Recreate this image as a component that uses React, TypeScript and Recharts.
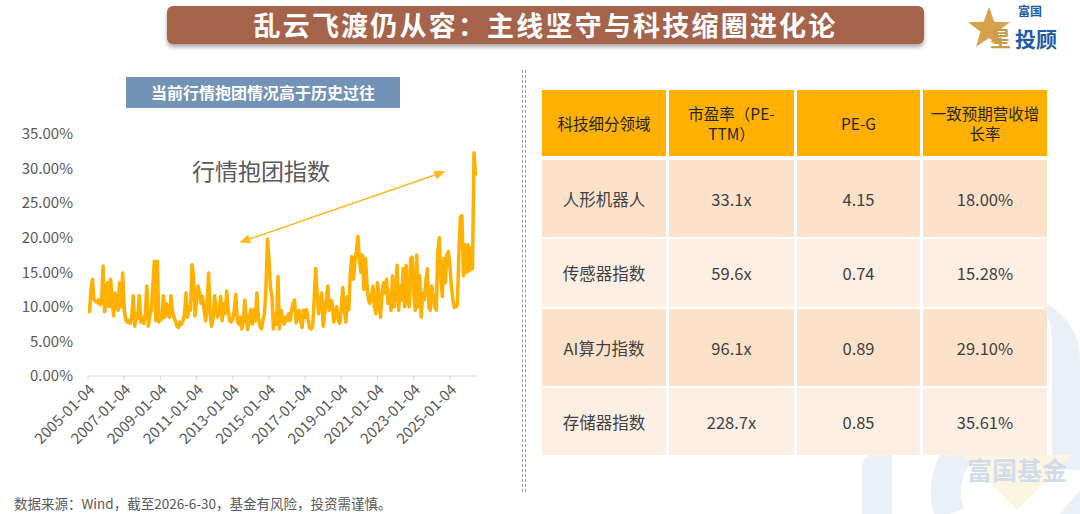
import React from 'react';
import { LineChart, Line, XAxis, YAxis, ReferenceLine } from 'recharts';

// ---------- Data ----------
const startYear = 2005;
// Monthly "行情抱团指数" (%) from Jan 2005 to Jun 2026
const indexValues: number[] = [
  // 2005
  10.2, 9.3, 12.5, 14.0, 11.0, 10.8, 10.6, 11.0, 10.3, 10.6, 15.9, 9.3,
  // 2006
  10.5, 13.5, 10.0, 14.0, 11.0, 8.7, 12.0, 10.5, 9.5, 13.5, 10.0, 14.9,
  // 2007
  9.6, 8.2, 7.8, 8.0, 7.6, 8.5, 11.6, 7.2, 9.0, 8.3, 11.6, 7.8,
  // 2008
  8.5, 7.6, 9.0, 13.0, 7.2, 8.8, 9.5, 13.0, 16.6, 8.0, 16.6, 7.8,
  // 2009
  9.0, 8.2, 11.6, 8.5, 10.5, 9.0, 8.5, 11.6, 9.3, 8.5, 8.0, 7.2,
  // 2010
  7.0, 7.8, 7.5, 8.0, 9.0, 12.0, 8.5, 10.0, 9.5, 16.1, 14.5, 8.7,
  // 2011
  11.0, 13.0, 12.0, 10.5, 11.5, 9.5, 8.0, 10.0, 14.9, 9.0, 7.2, 8.5,
  // 2012
  11.6, 9.5, 8.5, 9.5, 11.5, 8.0, 10.5, 9.0, 12.3, 9.5, 8.0, 7.8,
  // 2013
  8.3, 9.5, 11.8, 8.0, 7.5, 8.5, 6.8, 8.0, 11.0, 8.0, 6.7, 8.5,
  // 2014
  9.6, 7.5, 9.6, 8.0, 12.0, 8.5, 7.2, 6.8, 8.0, 9.0, 12.5, 19.8,
  // 2015
  17.0, 12.8, 11.5, 6.8, 9.0, 7.5, 14.4, 6.8, 9.5, 8.5, 7.5, 8.5,
  // 2016
  8.0, 9.0, 8.0, 9.5, 10.5, 11.0, 7.7, 8.5, 9.5, 8.0, 7.0, 9.5,
  // 2017
  8.5, 9.6, 8.0, 7.0, 6.8, 7.2, 11.0, 15.6, 12.0, 9.0, 10.5, 12.0,
  // 2018
  7.2, 9.0, 11.0, 13.0, 9.5, 11.0, 10.5, 7.8, 9.0, 10.0, 8.0, 7.6,
  // 2019
  10.0, 12.8, 9.5, 7.8, 11.5, 9.6, 15.0, 17.3, 14.0, 16.5, 18.0, 20.2,
  // 2020
  17.0, 15.0, 17.5, 12.5, 17.0, 13.5, 11.0, 10.5, 11.5, 13.0, 10.0, 9.0,
  // 2021
  13.5, 11.0, 8.5, 12.0, 13.5, 12.0, 14.0, 10.5, 12.0, 9.5, 14.5, 10.0,
  // 2022
  12.0, 16.0, 9.5, 13.0, 11.0, 15.5, 10.0, 16.0, 11.0, 10.0, 17.0, 17.2,
  // 2023
  12.0, 9.5, 17.5, 10.0, 14.5, 8.5, 12.0, 11.0, 13.5, 15.5, 10.0, 9.5,
  // 2024
  13.0, 11.5, 10.0, 9.5, 18.0, 20.0, 14.0, 11.5, 17.0, 13.5, 17.5, 18.0,
  // 2025
  16.0, 13.0, 11.0, 9.9, 10.0, 10.3, 18.0, 23.0, 23.2, 14.5, 19.0, 15.0,
  // 2026
  19.0, 15.2, 18.5, 15.5, 32.3, 29.0,
];

const xTickYears = [2005, 2007, 2009, 2011, 2013, 2015, 2017, 2019, 2021, 2023, 2025];
const xTickLabels = [
  '2005-01-04', '2007-01-04', '2009-01-04', '2011-01-04', '2013-01-04', '2015-01-04',
  '2017-01-04', '2019-01-04', '2021-01-04', '2023-01-04', '2025-01-04',
];
const yTicks = [0, 5, 10, 15, 20, 25, 30, 35];

// double arrow annotation (data coords)
const arrowFrom = { x: 2013.36, y: 19.3 };
const arrowTo = { x: 2024.76, y: 29.6 };

// Table
const tableHeaders = ['科技细分领域', '市盈率（PE-TTM）', 'PE-G', '一致预期营收增长率'];
const sectors = ['人形机器人', '传感器指数', 'AI算力指数', '存储器指数'];
const peTTM = ['33.1x', '59.6x', '96.1x', '228.7x'];
const peG = ['4.15', '0.74', '0.89', '0.85'];
const revenueGrowth = ['18.00%', '15.28%', '29.10%', '35.61%'];

const chartData = indexValues.map((v, i) => ({ t: startYear + i / 12, v }));

const FONT = '"Noto Sans CJK SC", "Noto Sans", sans-serif';

const ArrowShape = (props: any) => {
  const { x1, y1, x2, y2 } = props;
  const ang = Math.atan2(y2 - y1, x2 - x1);
  const L = 11;
  const W = 4.5;
  const head = (px: number, py: number, a: number) => {
    const bx = px - L * Math.cos(a);
    const by = py - L * Math.sin(a);
    const nx = -Math.sin(a) * W;
    const ny = Math.cos(a) * W;
    return `${px},${py} ${bx + nx},${by + ny} ${bx - nx},${by - ny}`;
  };
  const sx = x1 + (L - 2) * Math.cos(ang);
  const sy = y1 + (L - 2) * Math.sin(ang);
  const ex = x2 - (L - 2) * Math.cos(ang);
  const ey = y2 - (L - 2) * Math.sin(ang);
  return (
    <g>
      <line x1={sx} y1={sy} x2={ex} y2={ey} stroke="#FFB81C" strokeWidth={1.5} />
      <polygon points={head(x1, y1, ang + Math.PI)} fill="#FFB81C" />
      <polygon points={head(x2, y2, ang)} fill="#FFB81C" />
    </g>
  );
};

const starPoints = (cx: number, cy: number, ro: number, ri: number) => {
  const pts: string[] = [];
  for (let i = 0; i < 10; i++) {
    const r = i % 2 === 0 ? ro : ri;
    const a = -Math.PI / 2 + (i * Math.PI) / 5;
    pts.push(`${cx + r * Math.cos(a)},${cy + r * Math.sin(a)}`);
  }
  return pts.join(' ');
};

const colLefts = [542, 669, 797, 923];
const colWidths = [124, 125, 123, 124];
const rowTops = [90, 160, 239, 309, 388];
const rowHeights = [66, 77, 68, 77, 67];
const rowBgs = ['#FFB000', '#FDE2CB', '#FEEFE4', '#FDE2CB', '#FEEFE4'];

export default function App() {
  const rows: string[][] = [tableHeaders];
  sectors.forEach((s, i) => rows.push([s, peTTM[i], peG[i], revenueGrowth[i]]));

  return (
    <div
      style={{
        position: 'absolute',
        left: 0,
        top: 0,
        width: 1080,
        height: 514,
        background: '#ffffff',
        overflow: 'hidden',
        fontFamily: FONT,
      }}
    >
      {/* watermark */}
      <svg width={1080} height={514} style={{ position: 'absolute', left: 0, top: 0 }}>
        <path d="M 862 514 L 862 470 Q 862 455 878 452 L 892 452 L 892 514 Z" fill="#EAF0F7" />
        <path d="M 1000 430 A 62 62 0 0 0 950 514" stroke="#EAF0F7" strokeWidth={30} fill="none" />
        <path d="M 1040 300 Q 1080 320 1080 360 L 1080 470 L 1052 470 L 1052 340 Q 1052 320 1040 300 Z" fill="#EAF0F7" />
        <path d="M 1080 490 L 1060 514 L 1080 514 Z" fill="#EAF0F7" />
        <polygon points="962,455 1072,455 1017,510" fill="#FCF5E2" />
        <text x={967} y={480} fontSize={25} fontWeight={700} fill="#D0DCEB" fontFamily={FONT}>
          富国基金
        </text>
      </svg>

      {/* Title banner */}
      <div
        style={{
          position: 'absolute',
          left: 167,
          top: 6,
          width: 757,
          height: 38,
          background: '#A6634B',
          borderRadius: 6,
          boxShadow: '0 3px 4px rgba(0,0,0,0.35)',
          color: '#ffffff',
          fontSize: 27,
          fontWeight: 700,
          lineHeight: '38px',
          textAlign: 'center',
          letterSpacing: 2.2,
        }}
      >
        乱云飞渡仍从容：主线坚守与科技缩圈进化论
      </div>

      {/* Logo */}
      <svg width={120} height={52} style={{ position: 'absolute', left: 960, top: 0 }}>
        <polygon points={starPoints(29, 29, 22, 9)} fill="#D6A24E" />
        <text x={30} y={46} fontSize={21} fontWeight={700} fill="#C99A4A" fontFamily={FONT}>
          星
        </text>
        <text x={58} y={16} fontSize={12} fontWeight={700} fill="#1E5BA8" fontFamily={FONT}>
          富国
        </text>
        <text x={55} y={47} fontSize={21} fontWeight={700} fill="#1E5BA8" fontFamily={FONT}>
          投顾
        </text>
      </svg>

      {/* Subtitle */}
      <div
        style={{
          position: 'absolute',
          left: 126,
          top: 77,
          width: 274,
          height: 31,
          background: '#7292B6',
          color: '#ffffff',
          fontSize: 16,
          fontWeight: 700,
          lineHeight: '31px',
          textAlign: 'center',
        }}
      >
        当前行情抱团情况高于历史过往
      </div>

      {/* Chart */}
      <div style={{ position: 'absolute', left: 0, top: 120 }}>
        <LineChart
          width={490}
          height={350}
          data={chartData}
          margin={{ top: 14, right: 13, left: 0, bottom: 0 }}
        >
          <XAxis
            type="number"
            dataKey="t"
            domain={[2005, 2026.5]}
            ticks={xTickYears}
            tickFormatter={(v: number) => xTickLabels[xTickYears.indexOf(v)] ?? ''}
            interval={0}
            angle={-45}
            textAnchor="end"
            height={94}
            stroke="#D9D9D9"
            tickSize={4}
            tickMargin={3}
            tick={{ fill: '#595959', fontSize: 15 }}
            allowDataOverflow
          />
          <YAxis
            domain={[0, 35]}
            ticks={yTicks}
            width={88}
            axisLine={false}
            tickLine={false}
            tickSize={0}
            tickMargin={15}
            tickFormatter={(v: number) => `${v.toFixed(2)}%`}
            tick={{ fill: '#595959', fontSize: 15 }}
          />
          <Line
            type="linear"
            dataKey="v"
            stroke="#FFB000"
            strokeWidth={3.5}
            dot={false}
            isAnimationActive={false}
            strokeLinejoin="round"
          />
          <ReferenceLine
            segment={[arrowFrom, arrowTo]}
            shape={ArrowShape}
            ifOverflow="visible"
          />
        </LineChart>
      </div>

      {/* annotation */}
      <div
        style={{
          position: 'absolute',
          left: 192,
          top: 157,
          fontSize: 23,
          color: '#595959',
          lineHeight: '26px',
          whiteSpace: 'nowrap',
        }}
      >
        行情抱团指数
      </div>

      {/* separator */}
      <div style={{ position: 'absolute', left: 522, top: 70, height: 422, borderLeft: '1px dashed #9a9a9a' }} />
      <div style={{ position: 'absolute', left: 525, top: 70, height: 422, borderLeft: '1px dashed #9a9a9a' }} />

      {/* Table */}
      {rows.map((row, r) =>
        row.map((cell, c) => (
          <div
            key={`${r}-${c}`}
            style={{
              position: 'absolute',
              left: colLefts[c],
              top: rowTops[r],
              width: colWidths[c],
              height: rowHeights[r],
              background: rowBgs[r],
              display: 'flex',
              alignItems: 'center',
              justifyContent: 'center',
              textAlign: 'center',
              color: r === 0 ? '#262626' : '#404040',
              fontSize: r === 0 ? 15.5 : 16.5,
              lineHeight: '20px',
              boxSizing: 'border-box',
              padding: r === 0 ? '0 2px' : 0,
            }}
          >
            {cell}
          </div>
        ))
      )}

      {/* footnote */}
      <div
        style={{
          position: 'absolute',
          left: 14,
          top: 495,
          fontSize: 13.5,
          color: '#595959',
          whiteSpace: 'nowrap',
          lineHeight: '16px',
        }}
      >
        数据来源：Wind，截至2026-6-30，基金有风险，投资需谨慎。
      </div>
    </div>
  );
}
